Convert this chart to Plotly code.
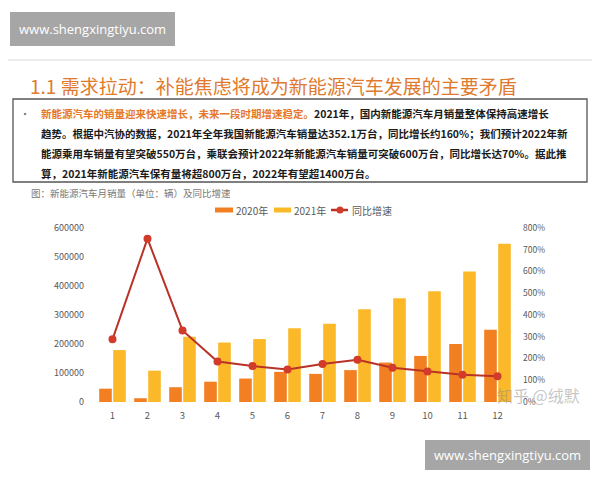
import plotly.graph_objects as go

months = ["1", "2", "3", "4", "5", "6", "7", "8", "9", "10", "11", "12"]
sales_2020 = [46000, 13000, 51000, 70000, 81000, 104000, 97000, 110000, 136000, 159000, 200000, 249000]
sales_2021 = [179000, 108000, 225000, 205000, 217000, 254000, 270000, 320000, 358000, 382000, 450000, 546000]
yoy_growth = [288, 751, 329, 186, 165, 149, 175, 194, 158, 140, 125, 118]
series_names = ["2020年", "2021年", "同比增速"]

left_ticks = [0, 100000, 200000, 300000, 400000, 500000, 600000]
right_ticks = [0, 100, 200, 300, 400, 500, 600, 700, 800]
right_labels = ["0%", "100%", "200%", "300%", "400%", "500%", "600%", "700%", "800%"]

C2020, C2021, CLINE, CMARK = "#F28022", "#FBB829", "#B83226", "#D23A2A"

# page has an 8px body margin; work in screen pixels and convert
OFF = 8
W, H = 600 - OFF, 480 - OFF
# plot area in screen pixels
SX0, SX1, SY0, SY1 = 95, 515, 228, 402
L, R, T, B = SX0 - OFF, W - (SX1 - OFF), SY0 - OFF, H - (SY1 - OFF)
PW, PH = SX1 - SX0, SY1 - SY0


def px(x):
    return (x - SX0) / PW


def py(y):
    return (SY1 - y) / PH


FONT = "Noto Sans CJK SC, Noto Sans, sans-serif"

fig = go.Figure()
fig.add_trace(go.Bar(x=months, y=sales_2020, name=series_names[0], marker_color=C2020,
                     marker_line_width=0, showlegend=False))
fig.add_trace(go.Bar(x=months, y=sales_2021, name=series_names[1], marker_color=C2021,
                     marker_line_width=0, showlegend=False))
fig.add_trace(go.Scatter(x=months, y=yoy_growth, name=series_names[2], yaxis="y2", mode="lines+markers",
                         line=dict(color=CLINE, width=2), showlegend=False,
                         marker=dict(color=CMARK, size=8)))


def rect(x0, x1, y0, y1, **kw):
    return dict(type="rect", xref="paper", yref="paper", x0=px(x0), x1=px(x1), y0=py(y0), y1=py(y1), **kw)


shapes = [
    dict(type="line", xref="paper", yref="paper", x0=px(0), x1=px(600), y0=py(60), y1=py(60),
         line=dict(color="#D9D9D9", width=1)),
    rect(13, 587, 99, 182, line=dict(color="#555555", width=1.3), fillcolor="rgba(0,0,0,0)"),
    rect(10, 175, 12, 46, line=dict(width=0), fillcolor="#A6A6A6"),
    rect(425, 590, 440, 470, line=dict(width=0), fillcolor="#A6A6A6"),
    # legend swatches
    rect(215, 233, 207.5, 212.5, line=dict(width=0), fillcolor=C2020),
    rect(274, 291, 207.5, 212.5, line=dict(width=0), fillcolor=C2021),
    dict(type="line", xref="paper", yref="paper", x0=px(331), x1=px(348), y0=py(210), y1=py(210),
         line=dict(color=CLINE, width=2.5)),
    dict(type="circle", xref="paper", yref="paper", x0=px(336.5), x1=px(343.5), y0=py(206.5), y1=py(213.5),
         line=dict(width=0), fillcolor=CMARK),
]

orange = "#E5782A"
text_lines = [
    "<span style='color:%s'>新能源汽车的销量迎来快速增长，未来一段时期增速稳定。</span>2021年，国内新能源汽车月销量整体保持高速增长" % orange,
    "趋势。根据中汽协的数据，2021年全年我国新能源汽车销量达352.1万台，同比增长约160%；我们预计2022年新",
    "能源乘用车销量有望突破550万台，乘联会预计2022年新能源汽车销量可突破600万台，同比增长达70%。据此推",
    "算，2021年新能源汽车保有量将超800万台，2022年有望超1400万台。",
]
line_y = [113, 133, 153, 173]


def ann(text, x, y, xanchor="left", **font):
    return dict(text=text, x=px(x), y=py(y), xref="paper", yref="paper", xanchor=xanchor,
                yanchor="middle", showarrow=False, font=font)


annotations = [
    ann("www.shengxingtiyu.com", 92.5, 29, "center", family="Open Sans, sans-serif", size=13, color="white"),
    ann("www.shengxingtiyu.com", 507.5, 455, "center", family="Open Sans, sans-serif", size=13, color="white"),
    ann("1.1 需求拉动：补能焦虑将成为新能源汽车发展的主要矛盾", 28, 85, "left",
        family=FONT, size=19, color="#E07A2C"),
    ann("•", 18, 113, "left", family=FONT, size=10, color="#666666"),
    ann("图：新能源汽车月销量（单位：辆）及同比增速", 29, 193, "left",
        family=FONT, size=9.5, color="#777777"),
    ann("知乎 @绒默", 538, 395, "center", family=FONT, size=16, color="rgba(140,140,140,0.5)"),
    # legend labels
    ann(series_names[0], 234, 210, "left", family=FONT, size=10, color="#595959"),
    ann(series_names[1], 292, 210, "left", family=FONT, size=10, color="#595959"),
    ann(series_names[2], 350, 210, "left", family=FONT, size=10, color="#595959"),
]
for t, yy in zip(text_lines, line_y):
    annotations.append(ann("<b>" + t + "</b>", 39, yy, "left", family=FONT, size=10.5, color="#1A1A1A"))

fig.update_layout(
    template="none",
    width=W, height=H,
    margin=dict(l=L, r=R, t=T, b=B, pad=0, autoexpand=False),
    paper_bgcolor="white", plot_bgcolor="white",
    barmode="group", bargap=0.2, bargroupgap=0.1,
    font=dict(family=FONT, size=10, color="#595959"),
    showlegend=False,
    xaxis=dict(type="category", range=[-0.5, 11.5], showgrid=False, showline=False, zeroline=False,
               automargin=False, tickfont=dict(size=9.5, color="#595959"), ticks="",
               ticklabelstandoff=6),
    yaxis=dict(range=[0, 600000], tickvals=left_ticks, tickformat="d", showgrid=False, automargin=False,
               showline=False, zeroline=False, ticks="", tickfont=dict(size=9, color="#595959"),
               ticklabelstandoff=10),
    yaxis2=dict(range=[0, 800], tickvals=right_ticks, ticktext=right_labels, overlaying="y", side="right",
                showgrid=False, showline=False, zeroline=False, automargin=False, ticks="",
                tickfont=dict(size=8.5, color="#595959"), ticklabelstandoff=7),
    shapes=shapes,
    annotations=annotations,
)

fig.write_html("out.html")
